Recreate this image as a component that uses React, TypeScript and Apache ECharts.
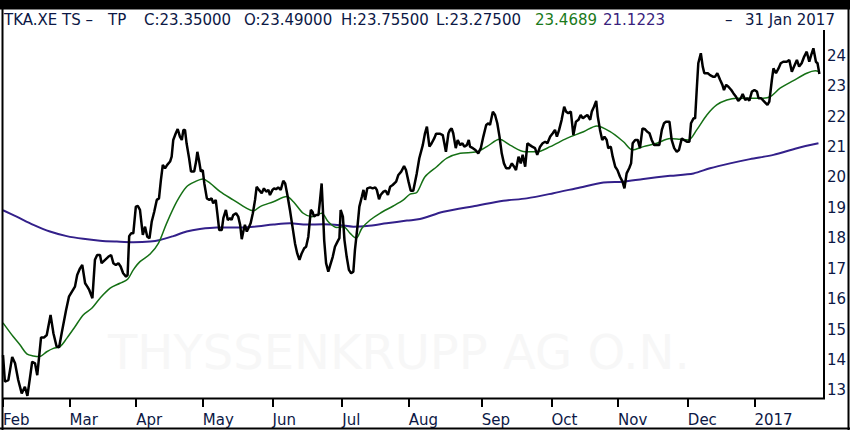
import React, { useEffect, useRef } from 'react';
import * as echarts from 'echarts';

// trading-day index of each month start (Feb 2016 .. Jan 2017)
const monthStarts = [0, 21, 42, 63, 85, 107, 128, 151, 173, 194, 216, 237];
const monthLabels = ['Feb', 'Mar', 'Apr', 'May', 'Jun', 'Jul', 'Aug', 'Sep', 'Oct', 'Nov', 'Dec', '2017'];
const priceTicks = [13, 14, 15, 16, 17, 18, 19, 20, 21, 22, 23, 24];

// [trading day, price]
const closePrices = [
  [0, 14.16], [0.6, 13.29], [1.7, 13.34], [2.9, 14.1], [3.8, 13.89], [4.8, 13.34], [5.9, 12.9], [6.9, 13.12],
  [7.7, 12.82], [8.7, 13.56], [9.2, 13.94], [10.1, 13.89], [10.8, 13.5], [11.5, 14.22], [12.0, 14.74], [13.0, 14.74],
  [13.8, 14.82], [15.0, 15.48], [15.9, 14.88], [16.9, 14.44], [17.7, 14.42], [18.5, 14.88], [19.9, 15.64], [20.8, 16.08],
  [21.7, 16.24], [22.7, 16.41], [23.4, 16.79], [24.3, 17.01], [25.0, 17.12], [25.9, 16.52], [26.6, 16.41], [27.2, 16.3],
  [28.2, 16.03], [29.0, 17.29], [29.7, 17.45], [30.6, 17.45], [31.1, 17.18], [32.2, 17.29], [33.2, 17.39], [34.1, 17.45],
  [34.8, 17.18], [35.6, 17.12], [36.4, 17.18], [37.1, 17.07], [37.9, 16.85], [38.8, 16.74], [39.3, 16.79], [39.8, 18.07],
  [40.4, 18.16], [41.1, 18.16], [41.9, 19.04], [42.5, 19.06], [43.2, 18.93], [44.1, 18.11], [44.8, 18.38], [45.5, 18.05],
  [46.2, 18.0], [46.9, 18.54], [47.7, 18.87], [48.5, 19.26], [49.2, 19.31], [49.8, 19.91], [50.4, 20.41], [51.1, 20.3],
  [51.8, 20.41], [52.7, 20.52], [53.2, 20.68], [53.7, 21.23], [54.5, 21.45], [55.1, 21.59], [55.8, 21.34], [56.4, 21.23],
  [56.9, 21.56], [57.4, 21.56], [57.9, 21.12], [58.7, 20.63], [59.3, 20.19], [60.3, 20.19], [60.9, 20.52], [61.3, 20.84],
  [61.8, 20.57], [62.4, 20.19], [63.0, 20.24], [63.5, 19.8], [64.3, 19.31], [65.1, 19.26], [65.8, 19.31], [66.3, 19.15],
  [67.1, 19.26], [67.6, 18.82], [68.2, 18.27], [69.0, 18.27], [69.5, 18.66], [70.3, 18.93], [70.9, 18.6], [71.6, 18.66],
  [72.1, 18.6], [72.6, 18.76], [73.5, 18.82], [74.2, 18.71], [74.8, 18.44], [75.3, 17.97], [75.8, 18.22], [76.3, 18.44],
  [76.9, 18.22], [77.4, 18.33], [78.1, 18.49], [78.8, 18.82], [79.5, 19.26], [80.0, 19.69], [80.8, 19.58], [81.6, 19.48],
  [82.3, 19.64], [83.0, 19.53], [83.7, 19.59], [84.2, 19.42], [85.0, 19.59], [85.5, 19.64], [86.1, 19.61], [86.8, 19.67],
  [87.6, 19.59], [88.4, 19.89], [89.0, 19.8], [89.7, 19.42], [90.5, 18.93], [91.3, 18.38], [92.1, 17.83], [92.8, 17.5],
  [93.5, 17.29], [94.2, 17.5], [95.0, 17.67], [95.6, 17.72], [96.3, 18.05], [97.1, 18.93], [97.6, 18.87], [98.1, 18.71],
  [98.7, 18.76], [99.5, 18.76], [100.0, 19.26], [100.5, 19.8], [100.9, 18.93], [101.3, 17.94], [101.9, 17.18], [102.6, 16.9],
  [103.4, 17.18], [104.0, 17.39], [104.7, 17.72], [105.5, 17.89], [106.1, 18.0], [106.5, 18.93], [107.2, 18.71], [107.7, 17.94],
  [108.4, 17.39], [109.1, 16.96], [109.8, 16.85], [110.5, 16.9], [111.0, 17.61], [111.8, 18.38], [112.4, 19.04], [113.2, 19.37],
  [113.7, 19.59], [114.2, 19.26], [114.9, 19.64], [115.8, 19.67], [116.6, 19.64], [117.4, 19.67], [117.9, 19.59], [118.6, 19.28],
  [119.1, 19.42], [120.0, 19.53], [120.7, 19.56], [121.4, 19.42], [122.1, 19.69], [122.9, 19.75], [124.0, 19.86], [124.7, 20.08],
  [125.6, 20.19], [126.5, 20.37], [127.1, 20.24], [127.9, 19.86], [128.6, 19.56], [129.4, 19.56], [130.5, 20.13], [131.3, 20.63],
  [132.4, 21.06], [133.1, 21.45], [133.7, 21.67], [134.5, 21.01], [135.2, 21.12], [136.0, 21.28], [136.6, 21.43], [137.9, 21.43],
  [138.7, 21.39], [139.2, 21.12], [139.7, 20.84], [140.5, 21.45], [141.0, 21.56], [141.5, 21.61], [142.0, 21.45], [142.8, 20.96],
  [143.4, 21.23], [144.2, 21.06], [144.9, 21.12], [145.5, 21.01], [146.3, 21.06], [146.9, 21.23], [147.3, 21.01], [148.2, 20.96],
  [149.0, 20.9], [149.9, 20.79], [150.7, 20.96], [151.5, 21.34], [152.4, 21.72], [153.1, 21.78], [153.6, 21.72], [154.5, 22.16],
  [155.2, 22.05], [155.9, 21.78], [156.6, 21.34], [157.3, 20.79], [158.0, 20.46], [158.7, 20.3], [159.7, 20.3], [160.5, 20.46],
  [161.2, 20.35], [161.8, 20.24], [162.6, 20.68], [163.3, 20.46], [163.9, 20.74], [164.7, 20.35], [165.4, 21.12], [166.2, 21.06],
  [166.9, 21.01], [167.8, 20.96], [168.5, 20.74], [169.4, 21.01], [170.2, 21.12], [171.0, 21.17], [171.7, 21.12], [172.6, 21.34],
  [173.4, 21.45], [174.1, 21.56], [174.7, 21.34], [175.4, 21.56], [176.2, 21.89], [177.0, 22.32], [177.6, 22.16], [178.3, 22.11],
  [179.1, 22.16], [179.9, 21.39], [180.7, 21.83], [181.5, 21.89], [182.2, 22.05], [182.9, 21.94], [183.6, 22.0], [184.3, 22.05],
  [185.2, 21.89], [185.7, 22.16], [186.4, 22.32], [187.1, 22.51], [187.6, 22.0], [188.3, 21.56], [189.0, 21.23], [189.7, 21.34],
  [190.4, 21.23], [190.9, 20.96], [191.7, 21.01], [192.3, 20.68], [193.1, 20.35], [193.8, 20.24], [194.6, 20.02], [195.4, 19.86],
  [196.0, 19.64], [196.7, 20.13], [197.5, 20.3], [198.1, 20.46], [198.6, 21.12], [199.4, 21.23], [200.2, 21.23], [200.9, 20.96],
  [201.7, 21.61], [202.5, 21.58], [203.2, 21.5], [203.9, 21.45], [204.6, 21.23], [205.4, 21.06], [206.2, 21.06], [207.0, 21.06],
  [207.8, 21.56], [208.5, 21.78], [209.1, 21.83], [210.2, 21.83], [210.9, 21.23], [211.7, 20.96], [212.5, 20.84], [213.2, 20.9],
  [214.1, 21.28], [214.8, 21.23], [215.7, 21.17], [216.5, 21.17], [217.0, 21.78], [217.8, 21.94], [218.3, 21.94], [218.8, 22.87],
  [219.3, 23.75], [220.1, 24.08], [220.7, 23.64], [221.2, 23.42], [222.3, 23.42], [223.0, 23.36], [223.9, 23.31], [224.6, 23.31],
  [225.3, 23.42], [226.2, 23.2], [226.9, 23.04], [227.4, 22.87], [228.1, 23.04], [228.8, 22.98], [229.7, 22.87], [230.4, 22.76],
  [231.2, 22.65], [231.9, 22.51], [232.7, 22.6], [233.3, 22.74], [234.1, 22.54], [234.8, 22.6], [235.4, 22.52], [236.2, 22.82],
  [237.0, 22.87], [237.8, 22.82], [238.3, 22.6], [239.1, 22.6], [240.1, 22.49], [241.1, 22.38], [241.7, 22.49], [242.5, 23.2],
  [243.0, 23.58], [243.8, 23.42], [244.6, 23.58], [245.3, 23.75], [246.1, 23.8], [247.2, 23.8], [248.0, 23.86], [248.8, 23.47],
  [249.5, 23.64], [250.4, 23.86], [251.1, 23.64], [251.9, 23.75], [252.7, 23.97], [253.5, 24.13], [254.3, 23.8], [254.9, 24.02],
  [255.6, 24.24], [256.4, 23.8], [256.9, 23.75], [257.5, 23.4],
];

// 20-day moving average
const ma20 = [
  [0, 15.22], [3.2, 14.77], [5.4, 14.49], [7.5, 14.2], [9.6, 14.13], [11.5, 14.11], [13.8, 14.27], [15.9, 14.38],
  [18.0, 14.44], [20.1, 14.71], [22.7, 15.09], [25.3, 15.48], [28.0, 15.7], [30.6, 16.03], [33.8, 16.36], [36.9, 16.52],
  [39.3, 16.65], [41.1, 16.96], [43.2, 17.23], [46.4, 17.48], [49.0, 17.83], [51.6, 18.49], [54.8, 19.2], [57.9, 19.69],
  [60.6, 19.86], [63.0, 19.95], [65.3, 19.81], [68.5, 19.53], [72.6, 19.26], [76.9, 18.98], [79.0, 18.9], [81.1, 19.04],
  [85.3, 19.2], [89.5, 19.37], [91.6, 19.2], [94.7, 18.82], [97.4, 18.71], [100.5, 18.82], [102.6, 18.54], [105.3, 18.35],
  [107.4, 18.38], [109.5, 18.16], [111.4, 18.0], [113.2, 18.33], [115.8, 18.6], [118.9, 18.82], [123.1, 19.06], [126.3, 19.26],
  [128.4, 19.45], [130.5, 19.5], [133.1, 20.02], [136.8, 20.35], [140.0, 20.63], [144.2, 20.79], [149.4, 20.84], [152.6, 21.01],
  [156.6, 21.25], [159.9, 21.06], [164.7, 20.84], [168.4, 20.84], [172.6, 21.01], [177.8, 21.28], [183.1, 21.5], [187.3, 21.69],
  [191.5, 21.5], [195.7, 21.17], [198.6, 20.9], [202.0, 21.01], [206.2, 21.12], [210.4, 21.28], [213.6, 21.25], [216.2, 21.23],
  [218.8, 21.56], [222.0, 22.05], [225.1, 22.38], [228.3, 22.54], [231.4, 22.6], [235.6, 22.6], [239.8, 22.6], [242.0, 22.65],
  [245.1, 22.93], [249.3, 23.18], [253.5, 23.42], [256.2, 23.5], [257.5, 23.47],
];

// 200-day moving average
const ma200 = [
  [0, 18.92], [4.3, 18.71], [9.6, 18.44], [14.8, 18.22], [20.1, 18.07], [25.3, 17.98], [30.6, 17.92], [35.9, 17.89],
  [41.1, 17.87], [46.4, 17.89], [49.5, 17.94], [53.7, 18.07], [57.9, 18.22], [62.1, 18.3], [67.4, 18.35], [72.6, 18.35],
  [79.0, 18.38], [85.3, 18.45], [90.5, 18.49], [95.8, 18.45], [101.0, 18.46], [106.3, 18.43], [110.5, 18.38], [114.7, 18.4],
  [121.0, 18.49], [127.4, 18.58], [131.5, 18.63], [138.9, 18.87], [149.4, 19.07], [157.8, 19.23], [165.2, 19.31], [173.6, 19.48],
  [182.0, 19.67], [189.4, 19.83], [195.7, 19.86], [202.0, 19.95], [210.4, 20.05], [217.8, 20.13], [223.0, 20.3], [229.3, 20.46],
  [235.6, 20.6], [243.0, 20.74], [250.4, 20.96], [257.2, 21.12],
];

const NAVY = '#0c1845';
const FONT = '"DejaVu Sans", Verdana, sans-serif';

const headerText = (x: number, text: string, fill = NAVY) => ({
  type: 'text',
  x,
  y: 20,
  style: { text, fill, font: `15px ${FONT}`, textVerticalAlign: 'middle' },
  z: 10,
});

const StockChart: React.FC = () => {
  const chartRef = useRef<HTMLDivElement>(null);

  useEffect(() => {
    const chart = echarts.init(chartRef.current!, null, { renderer: 'svg' });
    const option: any = {
      animation: false,
      backgroundColor: '#ffffff',
      grid: { left: 3, right: 29, top: 10, bottom: 32 },
      xAxis: {
        type: 'value',
        min: 0,
        max: 258,
        axisLine: { show: false },
        splitLine: { show: false },
        axisTick: {
          show: true,
          customValues: monthStarts,
          length: 9,
          lineStyle: { color: '#000', width: 2 },
        },
        axisLabel: {
          customValues: monthStarts,
          formatter: (v: number) => monthLabels[monthStarts.indexOf(v)] ?? '',
          color: NAVY,
          fontSize: 15,
          fontFamily: FONT,
          align: 'left',
          margin: 14,
        },
      },
      yAxis: {
        type: 'value',
        position: 'right',
        min: 12.75,
        max: 25.5,
        interval: 0.25,
        axisLine: { show: false },
        axisTick: { show: false },
        splitLine: { show: false },
        axisLabel: {
          formatter: (v: number) => (priceTicks.includes(v) ? String(v) : ''),
          color: NAVY,
          fontSize: 15,
          fontFamily: FONT,
          margin: 6,
        },
      },
      graphic: [
        {
          type: 'text',
          x: 108,
          y: 352,
          z: 0,
          style: {
            text: 'THYSSENKRUPP AG O.N.',
            fill: '#f7f7f7',
            font: `48px ${FONT}`,
            textVerticalAlign: 'middle',
          },
        },
        { type: 'rect', shape: { x: 0, y: 0, width: 850, height: 9.5 }, style: { fill: '#000' }, z: 10 },
        { type: 'line', shape: { x1: 2.5, y1: 0, x2: 2.5, y2: 430 }, style: { stroke: '#000', lineWidth: 2 }, z: 10 },
        { type: 'line', shape: { x1: 848.5, y1: 0, x2: 848.5, y2: 430 }, style: { stroke: '#000', lineWidth: 2 }, z: 10 },
        { type: 'line', shape: { x1: 0, y1: 428.5, x2: 850, y2: 428.5 }, style: { stroke: '#000', lineWidth: 2 }, z: 10 },
        { type: 'line', shape: { x1: 2, y1: 398.5, x2: 825, y2: 398.5 }, style: { stroke: '#000', lineWidth: 2 }, z: 10 },
        { type: 'line', shape: { x1: 824, y1: 30, x2: 824, y2: 399 }, style: { stroke: '#000', lineWidth: 2 }, z: 10 },
        headerText(4, 'TKA.XE TS –'),
        headerText(108, 'TP'),
        headerText(144, 'C:23.35000'),
        headerText(244, 'O:23.49000'),
        headerText(341, 'H:23.75500'),
        headerText(436, 'L:23.27500'),
        headerText(535, '23.4689', '#1b7a1b'),
        headerText(603, '21.1223', '#3a1f7d'),
        headerText(725, '–'),
        headerText(745, '31 Jan 2017'),
      ],
      series: [
        {
          name: 'MA200',
          type: 'line',
          data: ma200,
          showSymbol: false,
          smooth: 0.3,
          lineStyle: { color: '#33208a', width: 2 },
          z: 3,
        },
        {
          name: 'MA20',
          type: 'line',
          data: ma20,
          showSymbol: false,
          smooth: 0.3,
          lineStyle: { color: '#157015', width: 1.5 },
          z: 4,
        },
        {
          name: 'TKA.XE',
          type: 'line',
          data: closePrices,
          showSymbol: false,
          lineStyle: { color: '#000000', width: 2.5 },
          z: 5,
        },
      ],
    };

    chart.setOption(option);

    return () => {
      chart.dispose();
    };
  }, []);

  return (
    <div
      ref={chartRef}
      style={{ position: 'absolute', left: 0, top: 0, width: '850px', height: '430px' }}
    />
  );
};

export default function App() {
  return <StockChart />;
}
